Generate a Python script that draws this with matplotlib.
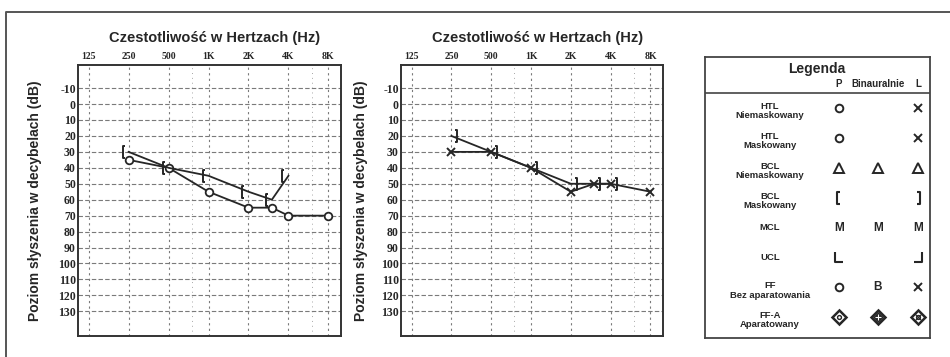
import matplotlib
matplotlib.use('Agg')
import matplotlib.pyplot as plt
import matplotlib.lines as mlines
from matplotlib.path import Path
from matplotlib.ticker import NullFormatter, FixedLocator

# ---------------- data ----------------
freq_ticks = [125, 250, 500, 1000, 2000, 4000, 8000]
freq_tick_labels = ['125', '250', '500', '1K', '2K', '4K', '8K']
freq_minor = [750, 6000]
db_ticks = [-10, 0, 10, 20, 30, 40, 50, 60, 70, 80, 90, 100, 110, 120, 130]

# right ear (left chart)
right_air_freq = [250, 500, 1000, 2000, 3000, 4000, 8000]
right_air_db = [35, 40, 55, 65, 65, 70, 70]
right_bc_freq = [250, 500, 1000, 2000, 3000, 4000]
right_bc_db = [30, 40, 45, 55, 60, 45]

# left ear (right chart)
left_air_freq = [250, 500, 1000, 2000, 3000, 4000, 8000]
left_air_db = [30, 30, 40, 55, 50, 50, 55]
left_bc_freq = [250, 500, 1000, 2000, 3000, 4000]
left_bc_db = [20, 30, 40, 50, 50, 50]

title_text = 'Czestotliwość w Hertzach (Hz)'
ylabel_text = 'Poziom słyszenia w decybelach (dB)'

legend_title = 'Legenda'
legend_cols = ['P', 'Binauralnie', 'L']
legend_rows = ['HTL\nNiemaskowany', 'HTL\nMaskowany', 'BCL\nNiemaskowany',
               'BCL\nMaskowany', 'MCL', 'UCL', 'FF\nBez aparatowania',
               'FF-A\nAparatowany']
legend_syms = [('circle', None, 'cross'), ('circle', None, 'cross'),
               ('tri', 'tri', 'tri'), ('lbr', None, 'rbr'),
               ('M', 'M', 'M'), ('ucl_p', None, 'ucl_l'),
               ('circle', 'B', 'cross'), ('dia_o', 'dia_b', 'dia_x')]

# ---------------- styles ----------------
INK = '#262626'
GRID = '#7a7a7a'
SANS = ['Liberation Sans', 'DejaVu Sans']
SERIF = ['Liberation Serif', 'DejaVu Serif']

M, L = Path.MOVETO, Path.LINETO
lbr_marker = Path([(-0.6, -1), (-1.0, -1), (-1.0, 1), (-0.6, 1)], [M, L, L, L])
rbr_marker = Path([(0.6, -1), (1.0, -1), (1.0, 1), (0.6, 1)], [M, L, L, L])
lbr_sym = Path([(0.2, -1), (-0.3, -1), (-0.3, 1), (0.2, 1)], [M, L, L, L])
rbr_sym = Path([(-0.2, -1), (0.3, -1), (0.3, 1), (-0.2, 1)], [M, L, L, L])
ucl_p = Path([(-0.6, 1), (-0.6, -0.7), (0.6, -0.7)], [M, L, L])
ucl_l = Path([(-0.6, -0.7), (0.6, -0.7), (0.6, 1)], [M, L, L])

fig = plt.figure(figsize=(9.5, 3.57), dpi=100)
W, H = 950.0, 357.0


def px_axes(x0, y0, x1, y1):
    return fig.add_axes([x0 / W, 1 - y1 / H, (x1 - x0) / W, (y1 - y0) / H])


def setup_audiogram(ax, ylabel_x):
    ax.set_xscale('log', base=2)
    ax.set_xlim(104, 9950)
    ax.set_ylim(145.5, -24.5)
    ax.xaxis.tick_top()
    ax.set_xticks(freq_ticks)
    ax.set_xticklabels(freq_tick_labels, fontfamily=SERIF, fontsize=7,
                       fontweight='bold', color=INK)
    ax.xaxis.set_minor_locator(FixedLocator(freq_minor))
    ax.xaxis.set_minor_formatter(NullFormatter())
    ax.set_yticks(db_ticks)
    ax.set_yticklabels([str(v) for v in db_ticks], fontfamily=SERIF,
                       fontsize=8.5, fontweight='bold', color=INK)
    ax.tick_params(axis='both', which='both', length=0)
    ax.tick_params(axis='x', pad=3)
    ax.tick_params(axis='y', pad=1.5)
    ax.grid(True, axis='y', color=GRID, lw=0.8, ls=(0, (4, 2)))
    ax.grid(True, axis='x', which='major', color=GRID, lw=0.8, ls=(0, (2, 3)))
    ax.grid(True, axis='x', which='minor', color='#a8a8a8', lw=0.7, ls=(0, (1, 4)))
    for sp in ax.spines.values():
        sp.set_color('#333333')
        sp.set_linewidth(1.4)
    ax.set_ylabel(ylabel_text, fontfamily=SANS, fontsize=10, fontweight='bold',
                  color=INK)
    ax.yaxis.set_label_coords(ylabel_x, 0.5)


# left chart (right ear)
ax1 = px_axes(78, 65, 341, 336)
setup_audiogram(ax1, -0.137)
ax1.text(0.52, 1.10, title_text, transform=ax1.transAxes, ha='center',
         va='center', fontfamily=SANS, fontsize=10.5, fontweight='bold',
         color=INK)
ax1.plot(right_air_freq, right_air_db, color=INK, lw=1.3, marker='o', ms=5.5,
         mfc='white', mec=INK, mew=1.3, zorder=3)
ax1.plot(right_bc_freq, right_bc_db, color=INK, lw=1.3, marker=lbr_marker,
         ms=9, mfc='none', mec=INK, mew=1.4, zorder=3)

# right chart (left ear)
ax2 = px_axes(401, 65, 663, 336)
setup_audiogram(ax2, -0.126)
ax2.text(0.52, 1.10, title_text, transform=ax2.transAxes, ha='center',
         va='center', fontfamily=SANS, fontsize=10.5, fontweight='bold',
         color=INK)
ax2.plot(left_air_freq, left_air_db, color=INK, lw=1.3, marker='x', ms=5.5,
         mec=INK, mew=1.4, zorder=3)
ax2.plot(left_bc_freq, left_bc_db, color=INK, lw=1.3, marker=rbr_marker,
         ms=9, mfc='none', mec=INK, mew=1.4, zorder=3)

# legend table
axl = px_axes(705, 57, 930, 338)
axl.set_xlim(705, 930)
axl.set_ylim(338, 57)
axl.set_xticks([])
axl.set_yticks([])
for sp in axl.spines.values():
    sp.set_color('#444444')
    sp.set_linewidth(1.3)
axl.axhline(93, color='#444444', lw=1.2)
axl.text(817, 69, legend_title, ha='center', va='center', fontfamily=SANS,
         fontsize=10, fontweight='bold', color=INK)
col_x = [839, 878, 918]
for cx, lab in zip(col_x, legend_cols):
    axl.text(cx, 84, lab, ha='center', va='center', fontfamily=SANS,
             fontsize=7, fontweight='bold', color=INK)


def draw_sym(x, y, kind):
    kw = dict(color=INK, mec=INK, ls='none', zorder=3)
    if kind == 'circle':
        axl.plot([x], [y], marker='o', ms=5.5, mfc='white', mew=1.4, **kw)
    elif kind == 'cross':
        axl.plot([x], [y], marker='x', ms=5.5, mew=1.4, **kw)
    elif kind == 'tri':
        axl.plot([x], [y], marker='^', ms=7, mfc='white', mew=1.4, **kw)
    elif kind == 'lbr':
        axl.plot([x], [y], marker=lbr_sym, ms=9, mfc='none', mew=1.5, **kw)
    elif kind == 'rbr':
        axl.plot([x], [y], marker=rbr_sym, ms=9, mfc='none', mew=1.5, **kw)
    elif kind == 'ucl_p':
        axl.plot([x], [y], marker=ucl_p, ms=9, mfc='none', mew=1.5, **kw)
    elif kind == 'ucl_l':
        axl.plot([x], [y], marker=ucl_l, ms=9, mfc='none', mew=1.5, **kw)
    elif kind in ('M', 'B'):
        axl.text(x, y, kind, ha='center', va='center', fontfamily=SANS,
                 fontsize=8.5, fontweight='bold', color=INK)
    elif kind.startswith('dia'):
        axl.plot([x], [y], marker='D', ms=7.5, mfc='white', mew=1.8, **kw)
        if kind == 'dia_o':
            axl.plot([x], [y], marker='o', ms=2.8, mfc='white', mew=1.0, **kw)
        elif kind == 'dia_x':
            axl.plot([x], [y], marker='o', ms=2.8, mfc='white', mew=1.0, **kw)
            axl.plot([x], [y], marker='x', ms=4.5, mew=0.8, **kw)
        else:
            axl.plot([x], [y], marker='D', ms=5.5, mfc=INK, mew=0.5, **kw)
            axl.plot([x], [y], marker='+', ms=5, mew=0.8, color='white',
                     mec='white', ls='none', zorder=4)


for i, (lab, syms) in enumerate(zip(legend_rows, legend_syms)):
    ys = 108 + 29.9 * i
    yl = ys + (3 if '\n' in lab else 0)
    axl.text(770, yl, lab, ha='center', va='center', fontfamily=SANS,
             fontsize=6.8, fontweight='bold', color=INK, linespacing=1.05)
    for cx, s in zip(col_x, syms):
        if s is not None:
            draw_sym(cx, ys, s)

# outer frame (cropped scan border)
fig.add_artist(mlines.Line2D([6 / W, 6 / W, 1.0], [0, 1 - 12 / H, 1 - 12 / H],
                             transform=fig.transFigure, color='#555555', lw=1.4))

fig.savefig('out.png', dpi=100, facecolor='white')
